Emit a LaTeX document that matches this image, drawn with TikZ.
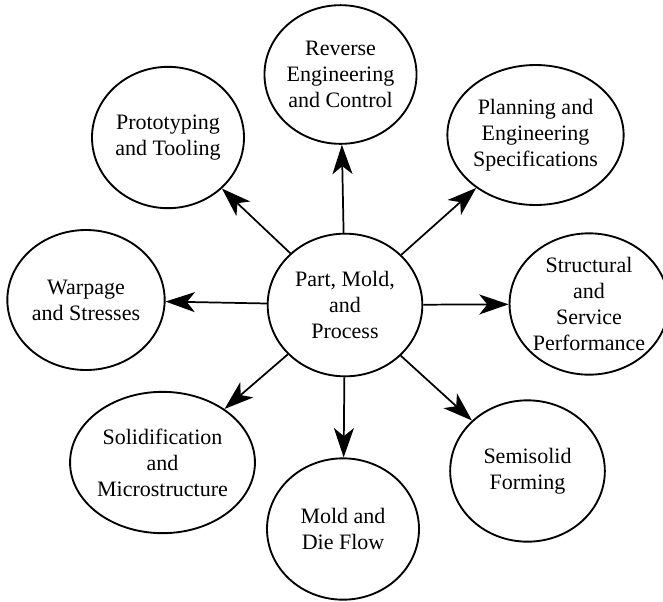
\documentclass[tikz,border=0pt]{standalone}
\usepackage{fontspec}
\setmainfont{Liberation Serif}
\usetikzlibrary{shapes.geometric,arrows.meta}
\begin{document}
\begin{tikzpicture}[x=0.75pt,y=-0.75pt,
  topic/.style={ellipse,draw,line width=1.4pt,align=center,inner sep=0pt,
    font=\fontsize{16.5}{19.5}\selectfont},
  link/.style={line width=1.3pt,-{Stealth[length=22pt,width=15pt,inset=6pt]}}]
\useasboundingbox (0,0) rectangle (663,601);

% hub
\node[topic,minimum width=116pt,minimum height=107pt] (c) at (345,305)
  {Part, Mold,\\and\\Process};

% surrounding topics
\node[topic,minimum width=110pt,minimum height=104pt] (rev) at (340.5,74.5)
  {Reverse\\Engineering\\and Control};
\node[topic,minimum width=114pt,minimum height=106pt] (proto) at (168,137.5)
  {Prototyping\\and Tooling};
\node[topic,minimum width=109pt,minimum height=105pt] (plan) at (535.5,135)
  {Planning and\\Engineering\\Specifications};
\node[topic,minimum width=111pt,minimum height=106pt] (struct) at (589,304)
  {Structural\\and\\Service\\Performance};
\node[topic,minimum width=118pt,minimum height=105pt] (warp) at (86,300)
  {Warpage\\and Stresses};
\node[topic,minimum width=116pt,minimum height=106pt] (solid) at (162.5,462.5)
  {Solidification\\and\\Microstructure};
\node[topic,minimum width=114pt,minimum height=106pt] (mold) at (343,529)
  {Mold and\\Die Flow};
\node[topic,minimum width=116pt,minimum height=106pt] (semi) at (527.5,471)
  {Semisolid\\Forming};

% connectors from the hub
\foreach \t in {rev,proto,plan,struct,warp,solid,mold,semi}
  \draw[link] (c) -- (\t);
\end{tikzpicture}
\end{document}
